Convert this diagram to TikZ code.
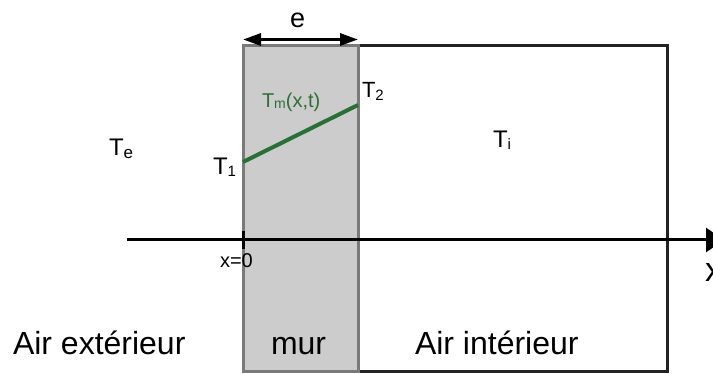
\documentclass[tikz,border=0pt]{standalone}
\usepackage{fontspec}
\setmainfont{Liberation Sans}
\usetikzlibrary{arrows.meta}
\definecolor{wallfill}{HTML}{CCCCCC}
\definecolor{wallline}{HTML}{7A7A7A}
\definecolor{boxline}{HTML}{222222}
\definecolor{tgreen}{HTML}{2A7036}
\newcommand\fs[1]{\fontsize{#1}{#1}\selectfont}
\newcommand\lowsub[3]{\raisebox{-#2pt}{\fs{#1}#3}}
\tikzset{
  lbl/.style={anchor=base west, inner sep=0pt, outer sep=0pt},
  wallbox/.style={fill=wallfill, draw=wallline, line width=3pt},
  roombox/.style={draw=boxline, line width=3pt},
  axisline/.style={draw=black, line width=3pt},
}
\begin{document}
\begin{tikzpicture}[x=1pt,y=-1pt]
\useasboundingbox (0,0) rectangle (713,374);
% room box and wall
\draw[roombox] (358,46) rectangle (667,372);
\draw[wallbox] (243,46) rectangle (358,372);
% coordinates
\coordinate (ea) at (243,39.5);
\coordinate (eb) at (358,39.5);
\coordinate (ax0) at (127,240);
\coordinate (ax1) at (724,240);
\coordinate (tk0) at (243,231);
\coordinate (tk1) at (243,249);
\coordinate (g1) at (243,162);
\coordinate (g2) at (358,105);
% thickness arrow
\draw[line width=3pt, {Triangle[length=18pt,width=12pt]}-{Triangle[length=18pt,width=12pt]}] (ea) -- (eb);
% axis
\draw[axisline, -{Triangle[length=18pt,width=24pt]}] (ax0) -- (ax1);
\draw[axisline] (tk0) -- (tk1);
% temperature profile
\draw[tgreen, line width=4pt] (g1) -- (g2);
% labels
\node[lbl] (le) at (290,28) {\fs{27}e};
\node[lbl] (lte) at (109,156) {\fs{24}T\lowsub{17}{2.5}{e}};
\node[lbl] (lt1) at (213,175) {\fs{24}T\lowsub{15}{2}{1}};
\node[lbl] (lt2) at (362,98) {\fs{22}T\lowsub{15}{2.5}{2}};
\node[lbl] (lti) at (493,148) {\fs{24}T\lowsub{15}{2}{i}};
\node[lbl, text=tgreen] (ltm) at (262,108) {\fs{20}T\lowsub{14}{1}{m}(x,t)};
\node[lbl] (lx0) at (220,268) {\fs{20}x=0};
\node[lbl] (lx) at (705,282) {\fs{34}x};
\node[lbl] (lext) at (13,355) {\fs{32}Air extérieur};
\node[lbl] (lmur) at (271,355) {\fs{32}mur};
\node[lbl] (lint) at (415,355) {\fs{32}Air intérieur};
\end{tikzpicture}
\end{document}
